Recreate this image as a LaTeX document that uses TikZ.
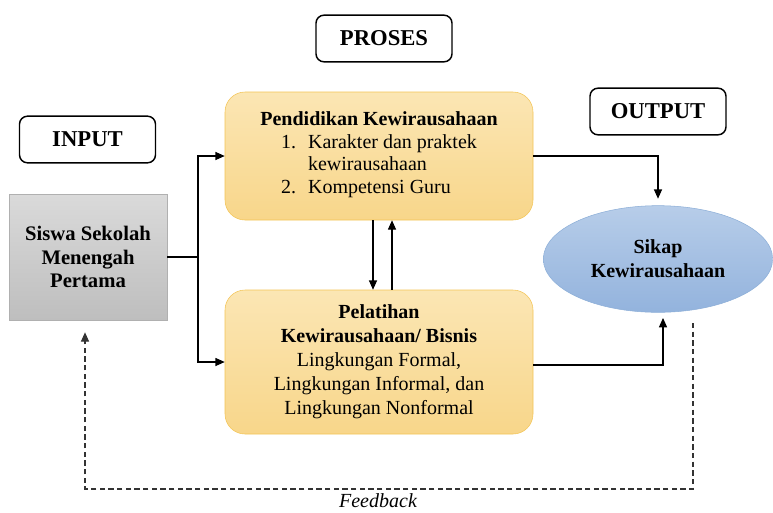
\documentclass[tikz,border=0pt]{standalone}
\usepackage{fontspec}
\setmainfont{Liberation Serif}
\usepackage{tikz}
\usetikzlibrary{shapes.geometric, arrows.meta, positioning, calc}
\definecolor{boxorange}{HTML}{F8D68A}
\definecolor{boxorangetop}{HTML}{FBE6B4}
\definecolor{boxorangeline}{HTML}{F3C455}
\definecolor{boxgraytop}{HTML}{DADADA}
\definecolor{boxgray}{HTML}{BEBEBE}
\definecolor{boxgrayline}{HTML}{B0B0B0}
\definecolor{ovalbluetop}{HTML}{B7CDE9}
\definecolor{ovalblue}{HTML}{93B3DD}
\definecolor{ovalblueline}{HTML}{8DAFD8}

\begin{document}
\begin{tikzpicture}[
    x=0.75pt, y=-0.75pt,
    label box/.style={rectangle, draw, line width=1.1pt, rounded corners=6pt, fill=white, minimum width=102pt, minimum height=35pt, font=\fontsize{17}{19}\selectfont\bfseries},
    process/.style={rectangle, draw=boxorangeline, rounded corners=15pt, top color=boxorangetop, bottom color=boxorange, minimum width=231pt, font=\fontsize{15}{17}\selectfont, align=center},
    source/.style={rectangle, draw=boxgrayline, top color=boxgraytop, bottom color=boxgray, minimum width=118.5pt, minimum height=94.5pt, font=\fontsize{15.5}{17.5}\selectfont\bfseries, align=center},
    result/.style={ellipse, draw=ovalblueline, top color=ovalbluetop, bottom color=ovalblue, minimum width=172pt, minimum height=80pt, inner sep=0pt, font=\fontsize{15}{18}\selectfont\bfseries, align=center},
    arrow/.style={-{Triangle[length=7pt, width=6pt]}, line width=0.9pt},
    fbarrow/.style={arrow, draw=black!80, dash pattern=on 4pt off 2.5pt}
]
\useasboundingbox (0,0) rectangle (773,512);

% headers
\node[label box] (proses) at (384,38.5) {PROSES};
\node[label box] (input) at (87.5,139.5) {INPUT};
\node[label box] (output) at (658,111.5) {OUTPUT};

% boxes
\node[source] (siswa) at (88,257) {Siswa Sekolah\\Menengah\\Pertama};
\node[process, minimum height=96pt] (pendidikan) at (379,156) {\textbf{Pendidikan Kewirausahaan}\\
  \begin{tabular}[t]{@{}l@{\hspace{9pt}}l@{}}
  1. & Karakter dan praktek\\
     & kewirausahaan\\
  2. & Kompetensi Guru
  \end{tabular}};
\node[process, minimum height=108pt, font=\fontsize{15}{18}\selectfont] (pelatihan) at (379,362) {\textbf{Pelatihan}\\\textbf{Kewirausahaan/ Bisnis}\\Lingkungan Formal,\\Lingkungan Informal, dan\\Lingkungan Nonformal};
\node[result] (sikap) at (658,259) {Sikap\\Kewirausahaan};

% connectors
\coordinate (fork) at (198,257);
\draw[line width=0.9pt] (siswa.east) -- (fork);
\draw[arrow] (fork) |- (pendidikan.west);
\draw[arrow] (fork) |- (pelatihan.west);
\draw[arrow] ($(pendidikan.south)+(-6,0)$) -- ($(pelatihan.north)+(-6,0)$);
\draw[arrow] ($(pelatihan.north)+(13,0)$) -- ($(pendidikan.south)+(13,0)$);
\draw[arrow, shorten >=5pt] (pendidikan.east) -| (sikap.north);
\draw[arrow, shorten >=4pt] ($(pelatihan.east)+(0,3)$) -| ($(sikap.south)+(5,0)$);

% feedback
\coordinate (fbstart) at (693,323);
\coordinate (fbcorner) at (693,489);
\draw[fbarrow, shorten >=9pt] (fbstart) -- (fbcorner) -| ($(siswa.south)+(-3,0)$);
\node[font=\fontsize{15}{17}\selectfont\itshape, inner sep=0pt] (feedback) at (378,501) {Feedback};

\end{tikzpicture}
\end{document}
